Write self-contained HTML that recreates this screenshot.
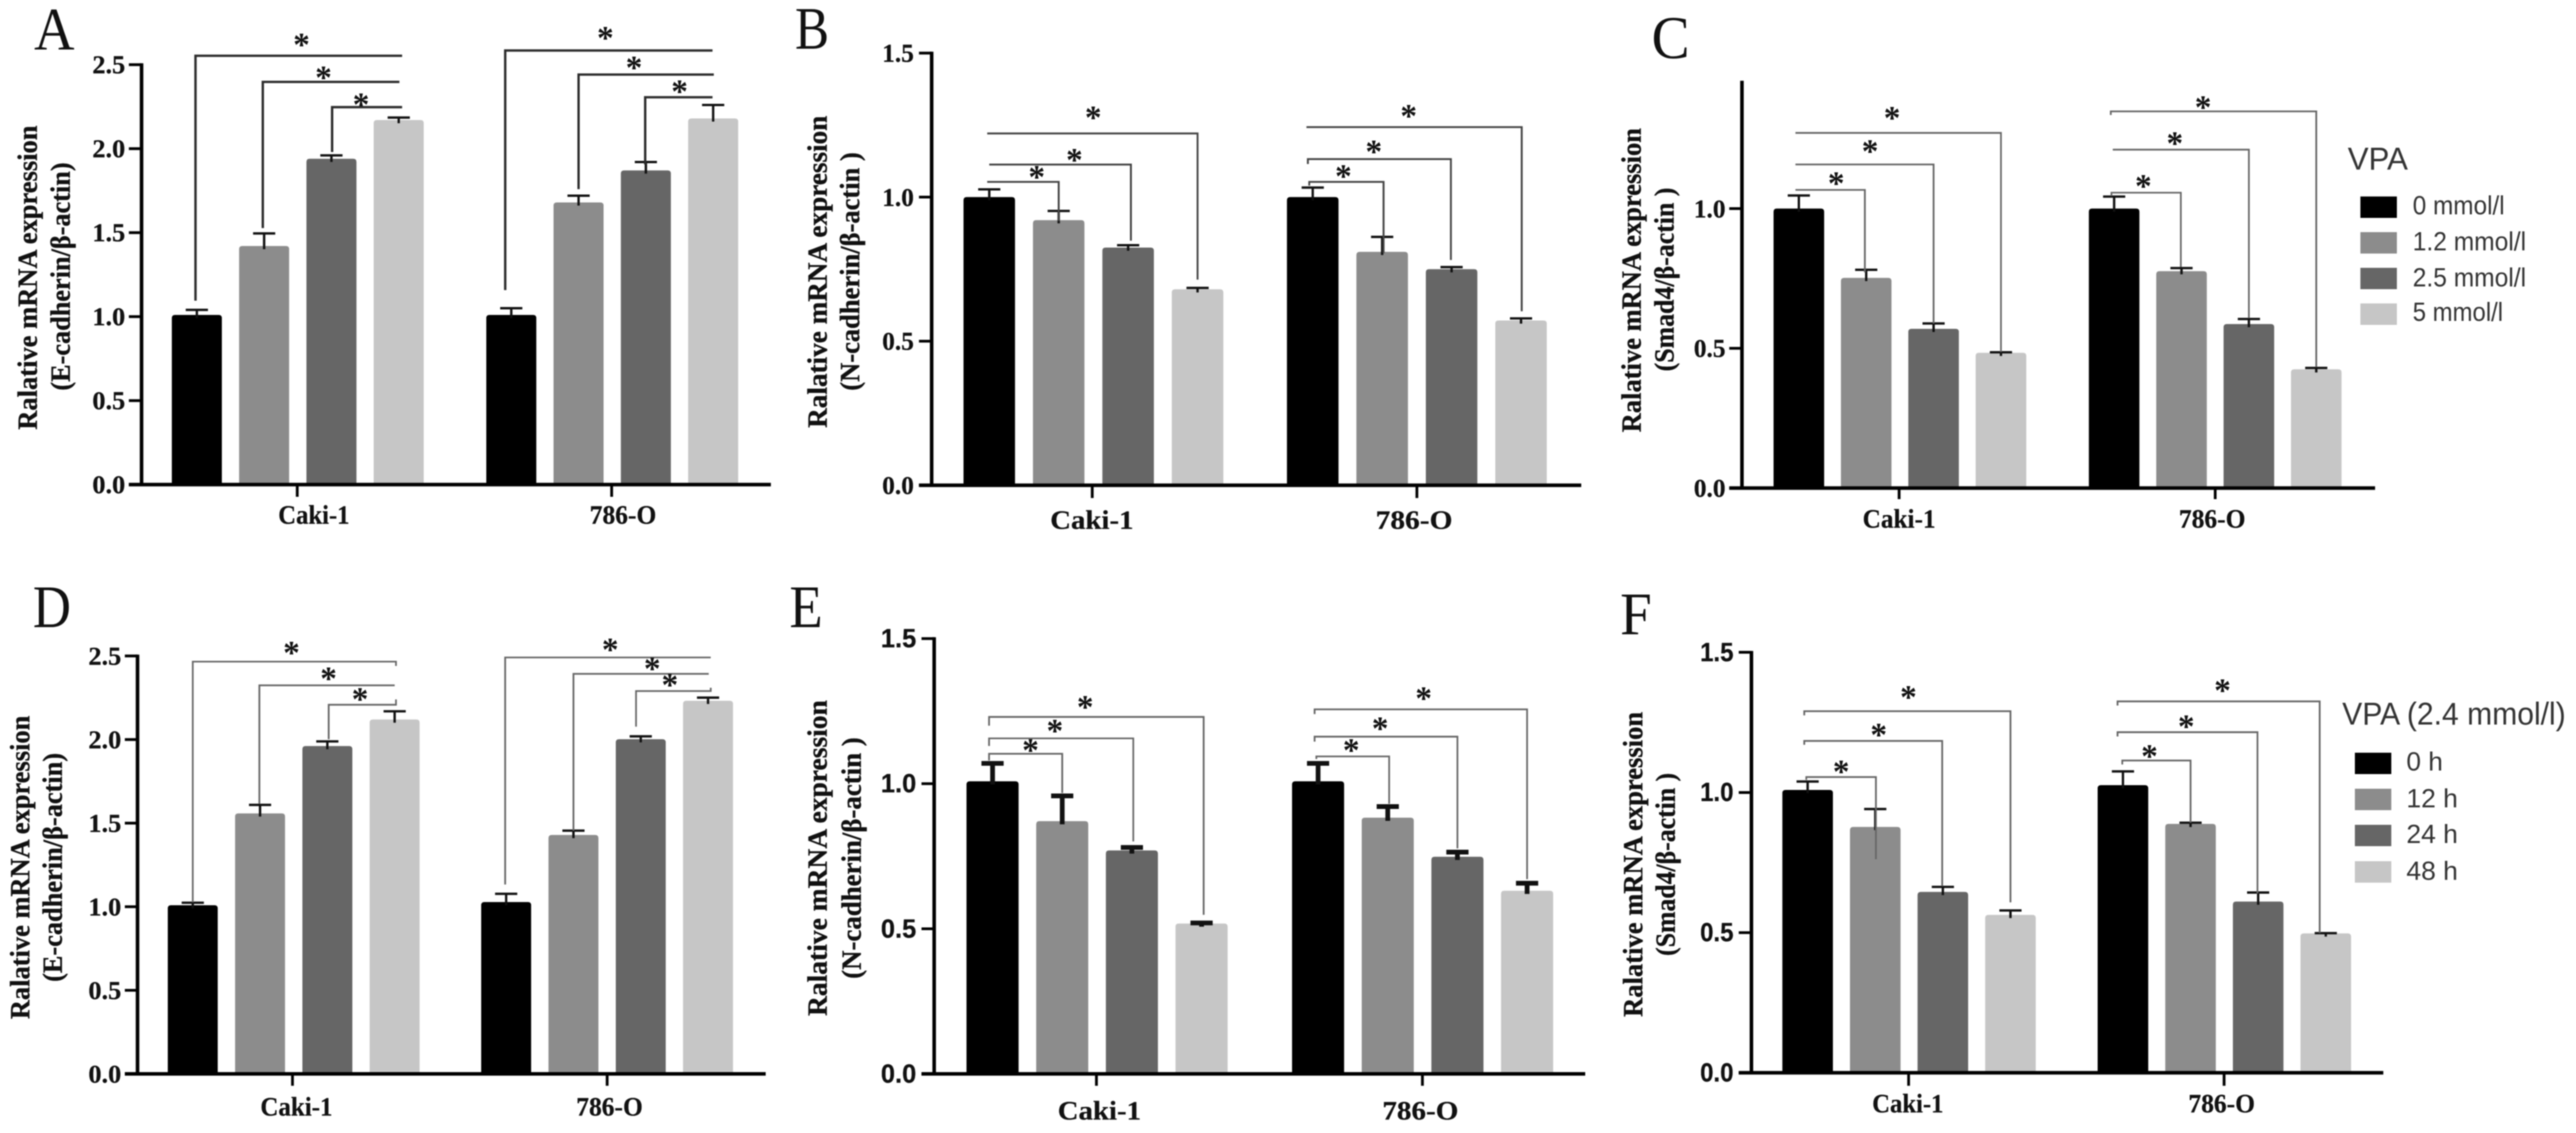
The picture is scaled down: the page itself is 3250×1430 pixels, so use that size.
<!DOCTYPE html>
<html lang="en">
<head>
<meta charset="utf-8">
<title>Relative mRNA expression after VPA treatment</title>
<style>
  html, body { margin: 0; padding: 0; background: #fff; width: 3250px; height: 1430px; overflow: hidden; }
  svg { display: block; filter: blur(0.7px); }
  .letter { font-family: "Liberation Serif", serif; font-size: 76px; fill: #111; }
  .title { font-family: "Liberation Serif", serif; font-weight: bold; font-size: 35px; fill: #111; stroke: #111; stroke-width: 0.4px; text-anchor: middle; }
  .legend-title { font-family: "Liberation Sans", sans-serif; font-size: 40px; fill: #333; }
  .legend-label { font-family: "Liberation Sans", sans-serif; font-size: 33px; fill: #333; }
</style>
</head>
<body>
<svg id="figure" width="3250" height="1430" viewBox="0 0 3250 1430" xmlns="http://www.w3.org/2000/svg">
  <rect width="3250" height="1430" fill="#fff"/>

  <g id="panel-a">
    <text class="letter" x="43" y="62.5" textLength="51" lengthAdjust="spacingAndGlyphs">A</text>
    <text class="title" transform="translate(46.5 350.4) rotate(-90)" textLength="384" lengthAdjust="spacingAndGlyphs">Ralative mRNA expression</text>
    <text class="title" transform="translate(88 349) rotate(-90)" textLength="288" lengthAdjust="spacingAndGlyphs">(E-cadherin/β-actin)</text>
  </g>

  <g id="panel-b">
    <text class="letter" x="1003" y="61.6" textLength="43" lengthAdjust="spacingAndGlyphs">B</text>
    <text class="title" transform="translate(1043 343) rotate(-90)" textLength="394" lengthAdjust="spacingAndGlyphs">Ralative mRNA expression</text>
    <text class="title" transform="translate(1084 342.6) rotate(-90)" textLength="301" lengthAdjust="spacingAndGlyphs">(N-cadherin/β-actin )</text>
  </g>

  <g id="panel-c">
    <text class="letter" x="2083.7" y="73.7" textLength="48" lengthAdjust="spacingAndGlyphs">C</text>
    <text class="title" transform="translate(2070 353.6) rotate(-90)" textLength="384" lengthAdjust="spacingAndGlyphs">Ralative mRNA expression</text>
    <text class="title" transform="translate(2111.6 352.7) rotate(-90)" textLength="232" lengthAdjust="spacingAndGlyphs">(Smad4/β-actin )</text>
    <g>
      <text class="legend-title" x="2962" y="214" textLength="76" lengthAdjust="spacingAndGlyphs">VPA</text>
      <rect x="2978" y="248" width="46" height="27" fill="#000"/>
      <text class="legend-label" x="3044" y="270.5" textLength="116" lengthAdjust="spacingAndGlyphs">0 mmol/l</text>
      <rect x="2978" y="293" width="46" height="27" fill="#8c8c8c"/>
      <text class="legend-label" x="3044" y="316" textLength="143" lengthAdjust="spacingAndGlyphs">1.2 mmol/l</text>
      <rect x="2978" y="338" width="46" height="27" fill="#666"/>
      <text class="legend-label" x="3044" y="361.5" textLength="143" lengthAdjust="spacingAndGlyphs">2.5 mmol/l</text>
      <rect x="2978" y="383" width="46" height="27" fill="#c6c6c6"/>
      <text class="legend-label" x="3044" y="405" textLength="114" lengthAdjust="spacingAndGlyphs">5 mmol/l</text>
    </g>
  </g>

  <g id="panel-d">
    <text class="letter" x="41.5" y="791.6" textLength="48" lengthAdjust="spacingAndGlyphs">D</text>
    <text class="title" transform="translate(37 1094.8) rotate(-90)" textLength="383" lengthAdjust="spacingAndGlyphs">Ralative mRNA expression</text>
    <text class="title" transform="translate(78 1094.8) rotate(-90)" textLength="289" lengthAdjust="spacingAndGlyphs">(E-cadherin/β-actin)</text>
  </g>

  <g id="panel-e">
    <text class="letter" x="996" y="791.6" textLength="42" lengthAdjust="spacingAndGlyphs">E</text>
    <text class="title" transform="translate(1043 1083) rotate(-90)" textLength="398.6" lengthAdjust="spacingAndGlyphs">Ralative mRNA expression</text>
    <text class="title" transform="translate(1086 1083) rotate(-90)" textLength="304.8" lengthAdjust="spacingAndGlyphs">(N-cadherin/β-actin )</text>
  </g>

  <g id="panel-f">
    <text class="letter" x="2044" y="800.6" textLength="40" lengthAdjust="spacingAndGlyphs">F</text>
    <text class="title" transform="translate(2072 1091) rotate(-90)" textLength="385" lengthAdjust="spacingAndGlyphs">Ralative mRNA expression</text>
    <text class="title" transform="translate(2113 1091) rotate(-90)" textLength="231" lengthAdjust="spacingAndGlyphs">(Smad4/β-actin )</text>
    <g>
      <text class="legend-title" x="2955" y="914.7" textLength="282" lengthAdjust="spacingAndGlyphs">VPA (2.4 mmol/l)</text>
      <rect x="2971" y="950" width="46" height="27" fill="#000"/>
      <text class="legend-label" x="3036" y="972.7" textLength="46" lengthAdjust="spacingAndGlyphs">0 h</text>
      <rect x="2971" y="995.5" width="46" height="27" fill="#8c8c8c"/>
      <text class="legend-label" x="3036" y="1019" textLength="65" lengthAdjust="spacingAndGlyphs">12 h</text>
      <rect x="2971" y="1041" width="46" height="27" fill="#666"/>
      <text class="legend-label" x="3036" y="1064" textLength="65" lengthAdjust="spacingAndGlyphs">24 h</text>
      <rect x="2971" y="1087" width="46" height="27" fill="#c6c6c6"/>
      <text class="legend-label" x="3036" y="1110.4" textLength="65" lengthAdjust="spacingAndGlyphs">48 h</text>
    </g>
  </g>
</svg>

<script>
/* ---------- chart data ---------- */
const categories = ['Caki-1', '786-O'];
const seriesFills = ['#000000', '#8c8c8c', '#666666', '#c6c6c6'];

const ticksAD = ['0.0', '0.5', '1.0', '1.5', '2.0', '2.5'];
const ticksBEF = ['0.0', '0.5', '1.0', '1.5'];
const ticksC = ['0.0', '0.5', '1.0'];

/* mean values, one array per cell line */
const meansACaki = [1.01, 1.42, 1.94, 2.17];
const means786A = [1.01, 1.68, 1.87, 2.18];
const meansBCaki = [1.0, 0.92, 0.825, 0.68];
const means786B = [1.0, 0.81, 0.75, 0.572];
const meansCCaki = [1.0, 0.752, 0.57, 0.484];
const means786C = [1.0, 0.776, 0.587, 0.425];
const meansDCaki = [1.009, 1.558, 1.961, 2.12];
const means786D = [1.028, 1.429, 2.002, 2.232];
const meansECaki = [1.008, 0.871, 0.77, 0.518];
const means786E = [1.008, 0.883, 0.748, 0.631];
const meansFCaki = [1.009, 0.877, 0.645, 0.563];
const means786F = [1.026, 0.888, 0.611, 0.497];

/* error-bar upper limits */
const upperACaki = [1.04, 1.495, 1.96, 2.185];
const upper786A = [1.05, 1.72, 1.92, 2.26];
const upperBCaki = [1.027, 0.952, 0.833, 0.685];
const upper786B = [1.033, 0.862, 0.757, 0.579];
const upperCCaki = [1.047, 0.781, 0.589, 0.486];
const upper786C = [1.043, 0.787, 0.605, 0.43];
const upperDCaki = [1.024, 1.609, 1.989, 2.169];
const upper786D = [1.077, 1.455, 2.019, 2.251];
const upperECaki = [1.07, 0.958, 0.78, 0.52];
const upper786E = [1.07, 0.921, 0.764, 0.657];
const upperFCaki = [1.039, 0.941, 0.663, 0.579];
const upper786F = [1.075, 0.892, 0.643, 0.498];

/* significance brackets: [group, fromSeries, toSeries, topValue, leftEndValue, rightEndValue, starFraction, starValue] */
const bracketsA = [
  [0, -0.02, 3.05, 2.553, 1.095, 2.553, 0.513, 2.643],
  [0, 0.98, 3.01, 2.397, 1.527, 2.397, 0.444, 2.447],
  [0, 2.01, 3.05, 2.247, 1.98, 2.247, 0.413, 2.285],
  [1, -0.09, 2.99, 2.584, 1.158, 2.584, 0.483, 2.681],
  [1, 1.0, 3.01, 2.441, 1.759, 2.441, 0.41, 2.506],
  [1, 1.99, 2.99, 2.306, 1.906, 2.306, 0.511, 2.363]
];
const bracketsB = [
  [0, -0.03, 1.0, 1.053, 1.053, 0.917, 0.693, 1.083],
  [0, 0, 2.04, 1.113, 1.113, 0.849, 0.601, 1.142],
  [0, -0.03, 3.0, 1.221, 1.221, 0.714, 0.504, 1.289],
  [1, -0.05, 1.02, 1.053, 1.04, 0.806, 0.46, 1.086],
  [1, -0.07, 1.99, 1.132, 1.115, 0.782, 0.461, 1.171],
  [1, -0.09, 3.01, 1.243, 1.243, 0.604, 0.475, 1.295]
];
const bracketsC = [
  [0, -0.05, 0.98, 1.067, 1.067, 0.772, 0.587, 1.105],
  [0, -0.05, 2.0, 1.158, 1.158, 0.589, 0.54, 1.219],
  [0, -0.05, 3.0, 1.271, 1.271, 0.487, 0.47, 1.338],
  [1, -0.04, 0.99, 1.057, 1.045, 0.791, 0.459, 1.095],
  [1, -0.02, 2.0, 1.211, 1.211, 0.608, 0.456, 1.247],
  [1, -0.05, 3.0, 1.348, 1.335, 0.433, 0.449, 1.377]
];
const bracketsD = [
  [0, 0, 3.02, 2.466, 1.026, 2.44, 0.486, 2.543],
  [0, 0.99, 3.0, 2.324, 1.616, 2.324, 0.511, 2.388],
  [0, 2.02, 3.02, 2.208, 2.002, 2.24, 0.466, 2.264],
  [1, -0.015, 3.04, 2.491, 1.133, 2.491, 0.511, 2.56],
  [1, 1.0, 3.01, 2.393, 1.455, 2.393, 0.582, 2.448],
  [1, 1.93, 3.04, 2.29, 2.077, 2.31, 0.453, 2.35]
];
const bracketsE = [
  [0, -0.05, 1.0, 1.103, 1.08, 0.968, 0.566, 1.129],
  [0, -0.05, 2.02, 1.156, 1.13, 0.801, 0.456, 1.195],
  [0, -0.05, 3.03, 1.23, 1.2, 0.548, 0.448, 1.277],
  [1, -0.025, 1.02, 1.094, 1.085, 0.931, 0.479, 1.129],
  [1, -0.05, 2.0, 1.162, 1.145, 0.777, 0.459, 1.203],
  [1, -0.05, 3.0, 1.256, 1.24, 0.671, 0.513, 1.308]
];
const bracketsF = [
  [0, -0.02, 1.01, 1.055, 1.045, 0.762, 0.5, 1.088],
  [0, -0.05, 1.99, 1.184, 1.17, 0.666, 0.54, 1.22],
  [0, -0.05, 3.0, 1.29, 1.275, 0.608, 0.505, 1.354],
  [1, -0.01, 1.0, 1.114, 1.1, 0.892, 0.398, 1.143],
  [1, -0.08, 1.99, 1.215, 1.2, 0.64, 0.491, 1.25],
  [1, -0.08, 2.91, 1.325, 1.31, 0.499, 0.519, 1.378]
];

/* ---------- panel layouts (pixels) ---------- */
const panels = [
  { id: 'panel-a', key: 'a', means: [meansACaki, means786A], upper: [upperACaki, upper786A], brackets: bracketsA, ticks: ticksAD,
    axisX: 178.6, y0: 611.6, unit: 212, axisTop: 2.5, right: 972.6, bar0: 216.8, barW: 63.1, step: 84.9, group2: 613.5,
    tickCenters: [375, 771.7], tickBottom: 627, labelCenters: [396, 786], labelWidths: [90, 84], labelY: 661, tickRight: 158, tickW: 41.5,
    tickFont: '"Liberation Serif", serif', errW: 3, bracketW: 3, bracketColor: '#2c2c2c' },
  { id: 'panel-b', key: 'b', means: [meansBCaki, means786B], upper: [upperBCaki, upper786B], brackets: bracketsB, ticks: ticksBEF,
    axisX: 1175.4, y0: 612.5, unit: 363.7, axisTop: 1.5, right: 1995, bar0: 1215.6, barW: 65, step: 87.6, group2: 1623.7,
    tickCenters: [1378, 1787.6], tickBottom: 628.6, labelCenters: [1377.5, 1784], labelWidths: [105, 97], labelY: 667.4, tickRight: 1153, tickW: 40,
    tickFont: '"Liberation Serif", serif', errW: 3, bracketW: 2.4, bracketColor: '#444' },
  { id: 'panel-c', key: 'c', means: [meansCCaki, means786C], upper: [upperCCaki, upper786C], brackets: bracketsC, ticks: ticksC,
    axisX: 2197.7, y0: 616, unit: 352.7, axisTop: 1.453, right: 2996.5, bar0: 2237.6, barW: 63.8, step: 85, group2: 2635.4,
    tickCenters: [2396, 2794.8], tickBottom: 630, labelCenters: [2396, 2791], labelWidths: [92, 84], labelY: 666, tickRight: 2177, tickW: 40,
    tickFont: '"Liberation Serif", serif', errW: 3, bracketW: 2.2, bracketColor: '#666' },
  { id: 'panel-d', key: 'd', means: [meansDCaki, means786D], upper: [upperDCaki, upper786D], brackets: bracketsD, ticks: ticksAD,
    axisX: 173.5, y0: 1355.4, unit: 211, axisTop: 2.5, right: 966, bar0: 211.7, barW: 63, step: 84.9, group2: 607.1,
    tickCenters: [369, 766], tickBottom: 1370.4, labelCenters: [374, 769], labelWidths: [91, 84], labelY: 1408, tickRight: 153, tickW: 41.5,
    tickFont: '"Liberation Serif", serif', errW: 3, bracketW: 2.2, bracketColor: '#666' },
  { id: 'panel-e', key: 'e', means: [meansECaki, means786E], upper: [upperECaki, upper786E], brackets: bracketsE, ticks: ticksBEF,
    axisX: 1178.6, y0: 1355.4, unit: 366.3, axisTop: 1.5, right: 2000, bar0: 1219.4, barW: 65.7, step: 87.9, group2: 1630.1,
    tickCenters: [1383.3, 1794.6], tickBottom: 1370.4, labelCenters: [1387, 1792], labelWidths: [105, 96], labelY: 1413, tickRight: 1156, tickW: 44.6,
    tickFont: '"Liberation Sans", sans-serif', errW: 6, bracketW: 2.2, bracketColor: '#666' },
  { id: 'panel-f', key: 'f', means: [meansFCaki, means786F], upper: [upperFCaki, upper786F], brackets: bracketsF, ticks: ticksBEF,
    axisX: 2209.7, y0: 1354, unit: 353.8, axisTop: 1.5, right: 3006.9, bar0: 2248.7, barW: 63.8, step: 85.3, group2: 2646.5,
    tickCenters: [2408, 2806], tickBottom: 1370.4, labelCenters: [2407, 2803], labelWidths: [90, 84], labelY: 1404, tickRight: 2187, tickW: 42,
    tickFont: '"Liberation Sans", sans-serif', errW: 3, bracketW: 2.2, bracketColor: '#666' }
];

/* ---------- drawing ---------- */
const SVG_NS = 'http://www.w3.org/2000/svg';

function make(parent, tag, attrs) {
  const node = document.createElementNS(SVG_NS, tag);
  Object.keys(attrs).forEach(function (k) { node.setAttribute(k, attrs[k]); });
  parent.appendChild(node);
  return node;
}

function drawPanel(p) {
  const root = document.getElementById(p.id);
  const yScale = function (v) { return p.y0 - v * p.unit; };
  const groupStart = function (g) { return g === 0 ? p.bar0 : p.group2; };
  const xScale = function (g, s) { return groupStart(g) + p.barW / 2 + s * p.step; };

  /* bars */
  p.means.forEach(function (values, g) {
    values.forEach(function (v, s) {
      const h = v * p.unit;
      const bar = make(root, 'path', {
        d: 'M' + (xScale(g, s) - p.barW / 2) + ' ' + p.y0 +
           'v' + (-(h - 4)) + 'q0 -4 4 -4h' + (p.barW - 8) + 'q4 0 4 4v' + (h - 4) + 'z',
        fill: seriesFills[s]
      });
      
      
    });
  });

  /* error bars */
  p.upper.forEach(function (values, g) {
    values.forEach(function (u, s) {
      const cx = xScale(g, s);
      const err = make(root, 'path', {
        d: 'M' + cx + ' ' + (yScale(p.means[g][s]) + 4) + 'V' + yScale(u) + 'M' + (cx - 14) + ' ' + yScale(u) + 'H' + (cx + 14),
        stroke: '#111', 'stroke-width': p.errW, fill: 'none'
      });
      
      
    });
  });

  /* brackets and stars */
  p.brackets.forEach(function (b, i) {
    const x1 = xScale(b[0], b[1]);
    const x2 = xScale(b[0], b[2]);
    const br = make(root, 'path', {
      d: 'M' + x1 + ' ' + yScale(b[4]) + 'V' + yScale(b[3]) + 'H' + x2 + 'V' + yScale(b[5]),
      stroke: p.bracketColor, 'stroke-width': p.bracketW, fill: 'none'
    });
    
    
    const star = make(root, 'text', {
      x: x1 + (x2 - x1) * b[6], y: yScale(b[7]) + 19, 'text-anchor': 'middle',
      'font-family': '"Liberation Serif", serif', 'font-weight': 'bold', 'font-size': 42, fill: '#111'
    });
    star.textContent = '*';
    
    
  });

  /* axes */
  const yAxis = make(root, 'line', { x1: p.axisX, x2: p.axisX, y1: yScale(p.axisTop) - 1.7, y2: p.y0, stroke: '#000', 'stroke-width': 4.5 });
  
  
  const xAxis = make(root, 'line', { x1: p.axisX - 16, x2: p.right, y1: p.y0, y2: p.y0, stroke: '#000', 'stroke-width': 4.5 });
  
  

  p.ticks.forEach(function (label) {
    const v = parseFloat(label);
    const y = yScale(v);
    const tick = make(root, 'line', { x1: p.axisX - 16, x2: p.axisX, y1: y, y2: y, stroke: '#000', 'stroke-width': 3.5 });
    
    
    const t = make(root, 'text', {
      x: p.tickRight, y: y + 11, 'text-anchor': 'end', 'font-family': p.tickFont, 'font-weight': 'bold', 'font-size': 33,
      fill: '#111', stroke: '#111', 'stroke-width': 0.3, textLength: p.tickW, lengthAdjust: 'spacingAndGlyphs'
    });
    t.textContent = label;
    
    
  });

  categories.forEach(function (name, g) {
    const tick = make(root, 'line', { x1: p.tickCenters[g], x2: p.tickCenters[g], y1: p.y0, y2: p.tickBottom, stroke: '#000', 'stroke-width': 3.5 });
    
    
    const t = make(root, 'text', {
      x: p.labelCenters[g], y: p.labelY, 'text-anchor': 'middle', 'font-family': '"Liberation Serif", serif', 'font-weight': 'bold',
      'font-size': 34, fill: '#111', stroke: '#111', 'stroke-width': 0.3, textLength: p.labelWidths[g], lengthAdjust: 'spacingAndGlyphs'
    });
    t.textContent = name;
    
    
  });
}

panels.forEach(drawPanel);
</script>
</body>
</html>
